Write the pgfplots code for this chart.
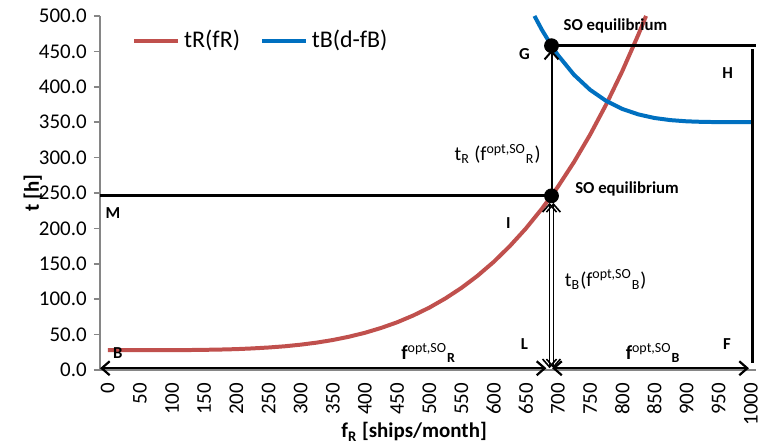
\documentclass[border=0pt]{standalone}
\usepackage{fontspec}
\setmainfont{Carlito}
\usepackage{pgfplots}
\pgfplotsset{compat=1.18}
\usetikzlibrary{arrows.meta}
\definecolor{tRred}{HTML}{C0504D}
\definecolor{tBblue}{HTML}{0070C0}
\definecolor{axgray}{HTML}{868686}

\begin{document}
\begin{tikzpicture}
\begin{axis}[
  scale only axis, width=329pt, height=177.5pt,
  xmin=-12.5, xmax=1008, ymin=0, ymax=500,
  axis x line*=bottom, axis y line*=left,
  axis line style={axgray, line width=0.8pt},
  tick align=outside,
  ytick={0,50,...,500},
  xtick={0,50,...,1000},
  xtick style={draw=none},
  ytick style={axgray, line width=0.8pt},
  major tick length=3pt,
  extra x ticks={-12.5,12.5,...,987.5},
  extra x tick labels={},
  extra x tick style={tick style={draw=axgray, line width=0.8pt}, major tick length=3pt},
  /pgf/number format/assume math mode=true,
  yticklabel style={/pgf/number format/.cd, fixed, fixed zerofill, precision=1, 1000 sep={}},
  xticklabel style={rotate=90, anchor=east, /pgf/number format/1000 sep={}},
  tick label style={font=\fontsize{10.5}{12}\selectfont},
  ylabel={\textbf{t [h]}},
  ylabel style={at={(axis description cs:-0.102,0.5)}, anchor=center, font=\fontsize{10.5}{12}\selectfont},
  xlabel={\textbf{f\textsubscript{R} [ships/month]}},
  xlabel style={at={(axis description cs:0.479,-0.175)}, anchor=center, font=\fontsize{10.5}{12}\selectfont},
  clip=false,
  legend style={at={(0.04,0.93)}, anchor=west, draw=none, fill=none,
    font=\fontsize{12}{14}\selectfont, legend columns=2,
    /tikz/every even column/.append style={column sep=8pt}},
  legend image code/.code={\draw[#1] (0pt,0pt) -- (22pt,0pt);},
]
% tR(fR)
\addplot[tRred, line width=2pt] coordinates {
 (0,28) (25,28.0) (50,28.0) (75,28.0) (100,28.1) (125,28.2) (150,28.5) (175,28.9)
 (200,29.5) (225,30.5) (250,31.8) (275,33.5) (300,35.8) (325,38.7) (350,42.4)
 (375,47.0) (400,52.6) (425,59.4) (450,67.4) (475,77.0) (500,88.1) (525,101.1)
 (550,116.0) (575,133.1) (600,152.6) (625,174.8) (650,199.7) (675,227.7)
 (690,246) (700,258.9) (725,293.7) (750,332.3) (775,375.0) (800,421.9)
 (825,473.5) (837,500)};
\addlegendentry{tR(fR)}
% tB(d-fB)
\addplot[tBblue, line width=2pt] coordinates {
 (663.5,500) (675,480.5) (690,458) (700,444.7) (725,416.9) (750,395.7)
 (775,380.0) (800,368.7) (825,361.0) (850,355.9) (875,352.9) (900,351.2)
 (925,350.4) (950,350.1) (975,350.0) (1000,350.0)};
\addlegendentry{tB(d-fB)}

% construction lines
\addplot[black, line width=1.5pt, forget plot] coordinates {(-12.5,246) (690,246)};
\addplot[black, line width=1.5pt, forget plot] coordinates {(690,458) (1008,458)};
\addplot[black, line width=1.6pt, forget plot] coordinates {(1003,453) (1003,10)};
% arrows
\addplot[black, line width=1pt, forget plot, -{Straight Barb[length=4pt,width=7pt]}]
  coordinates {(690,246) (690,452)};
\addplot[black, line width=0.8pt, forget plot, {Straight Barb[length=4pt,width=7pt]}-{Straight Barb[length=4pt,width=7pt]}]
  coordinates {(687,2.5) (687,236)};
\addplot[black, line width=0.8pt, forget plot, {Straight Barb[length=4pt,width=7pt]}-{Straight Barb[length=4pt,width=7pt]}]
  coordinates {(693,2.5) (693,236)};
\addplot[black, line width=1.1pt, forget plot, {Straight Barb[length=4pt,width=7pt]}-{Straight Barb[length=4pt,width=7pt]}]
  coordinates {(-12,2.5) (682,2.5)};
\addplot[black, line width=1.1pt, forget plot, {Straight Barb[length=4pt,width=7pt]}-{Straight Barb[length=4pt,width=7pt]}]
  coordinates {(691,2.5) (997,2.5)};
% equilibrium points
\addplot[only marks, mark=*, mark size=3.5pt, black, forget plot]
  coordinates {(690,246) (690,458)};

% labels
\begin{scope}[font=\fontsize{8.4}{10}\selectfont\bfseries]
\node[anchor=west] at (axis cs:698,486) {SO equilibrium};
\node[anchor=west] at (axis cs:716,256) {SO equilibrium};
\node at (axis cs:648,446.5) {G};
\node at (axis cs:964,420) {H};
\node at (axis cs:8,221) {M};
\node at (axis cs:623,208) {I};
\node at (axis cs:15.5,24) {B};
\node at (axis cs:648,36.6) {L};
\node at (axis cs:963,36.6) {F};
\end{scope}
\node[anchor=east, font=\fontsize{10}{12}\selectfont] at (axis cs:684,305)
  {t\textsubscript{R} (f\textsuperscript{opt,SO}\textsubscript{R})};
\node[anchor=west, font=\fontsize{10}{12}\selectfont] at (axis cs:700,128)
  {t\textsubscript{B}(f\textsuperscript{opt,SO}\textsubscript{B})};
\node[font=\fontsize{10}{12}\selectfont] at (axis cs:499,24)
  {\textbf{f}\textsuperscript{opt,SO}\textsubscript{\textbf{R}}};
\node[font=\fontsize{10}{12}\selectfont] at (axis cs:848,24)
  {\textbf{f}\textsuperscript{opt,SO}\textsubscript{\textbf{B}}};
\end{axis}
\pgfresetboundingbox
\useasboundingbox (-50pt,-38.5pt) rectangle (331pt,185.5pt);
\end{tikzpicture}
\end{document}
